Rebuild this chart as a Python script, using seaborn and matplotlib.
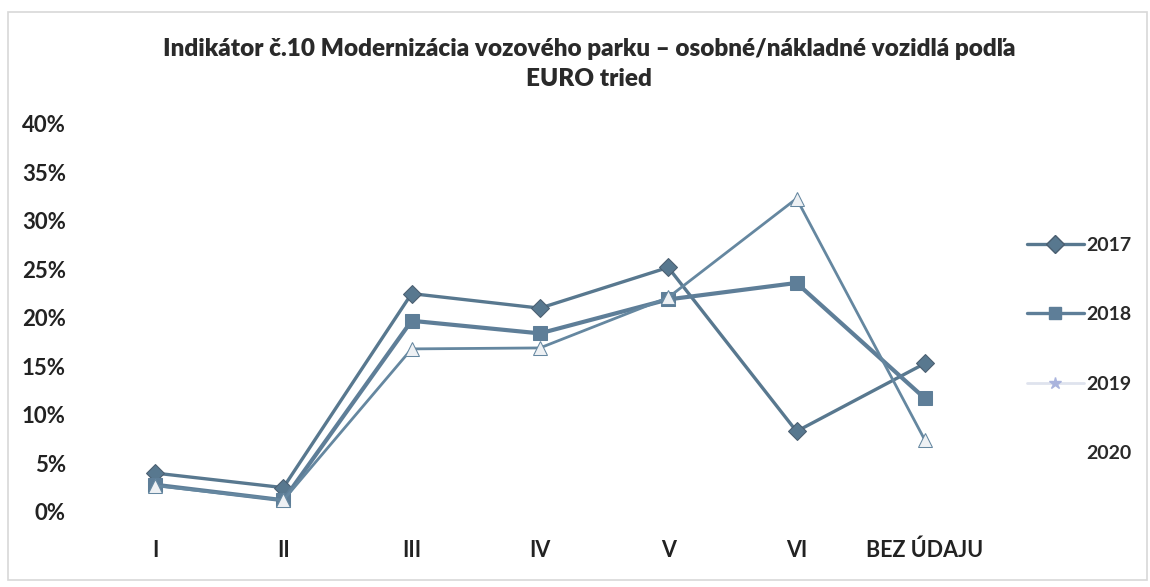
import numpy as np
import pandas as pd
import matplotlib
matplotlib.use("Agg")
import matplotlib.pyplot as plt
from matplotlib.lines import Line2D
from matplotlib.patches import Rectangle
import seaborn as sns

categories = ["I", "II", "III", "IV", "V", "VI", "BEZ ÚDAJU"]
years = ["2017", "2018", "2019", "2020"]
vals_2017 = [4.0, 2.5, 22.5, 21.0, 25.2, 8.3, 15.3]
vals_2018 = [2.8, 1.2, 19.7, 18.4, 21.9, 23.6, 11.7]
vals_2019 = [2.7, 1.2, 16.8, 16.9, 22.1, 32.3, 7.4]
vals_2020 = [np.nan] * 7  # no visible data in the chart

sns.set_theme(style="white")
plt.rcParams["font.family"] = ["Lato", "DejaVu Sans"]

fig = plt.figure(figsize=(11.5, 5.87), dpi=100)
ax = fig.add_axes([0.079, 0.128, 0.781, 0.661])

# light frame round the chart like the original sheet
fig.patches.append(Rectangle((0.007, 0.012), 0.99, 0.968, transform=fig.transFigure,
                             fill=False, edgecolor="#d8d8d8", linewidth=1.2))

col17 = "#58788f"
col18 = "#5e7e98"
col19 = "#6587a0"

sns.lineplot(x=categories, y=vals_2017, ax=ax, color=col17, lw=2.4, marker="D",
             markersize=9, markeredgecolor="#4a5e70", markerfacecolor=col17, sort=False)
sns.lineplot(x=categories, y=vals_2018, ax=ax, color=col18, lw=3.0, marker="s",
             markersize=9.5, markeredgecolor=col18, markerfacecolor=col18, sort=False)
sns.lineplot(x=categories, y=vals_2019, ax=ax, color=col19, lw=2.0, marker="^",
             markersize=10, markeredgecolor=col19, markerfacecolor="#eef1f4", sort=False)

ax.set_xlim(-0.5, 6.5)
ax.set_ylim(0, 40)
ax.set_yticks(range(0, 41, 5))
ax.set_yticklabels([f"{v}%" for v in range(0, 41, 5)])
ax.tick_params(axis="y", labelsize=16, pad=12, colors="#222222")
ax.tick_params(axis="x", labelsize=15.5, pad=14, colors="#222222")
for lab in ax.get_yticklabels() + ax.get_xticklabels():
    lab.set_fontweight("bold")
for s in ax.spines.values():
    s.set_visible(False)
ax.grid(False)

fig.suptitle("Indikátor č.10 Modernizácia vozového parku – osobné/nákladné vozidlá podľa\nEURO tried",
             x=0.512, y=0.935, fontsize=17.5, fontweight="heavy", color="#2a2a2a", linespacing=1.45)

handles = [
    Line2D([], [], color=col17, lw=2.4, marker="D", markersize=9, markeredgecolor="#4a5e70"),
    Line2D([], [], color=col18, lw=2.4, marker="s", markersize=9),
    Line2D([], [], color="#dfe3ee", lw=2.0, marker="*", markersize=9,
           markerfacecolor="#aab4dd", markeredgecolor="#aab4dd"),
    Line2D([], [], color="none"),
]
leg = fig.legend(handles, years, loc="center left", bbox_to_anchor=(0.878, 0.405),
                 frameon=False, fontsize=14, labelspacing=2.7, handlelength=2.9,
                 handletextpad=0.15)
for t in leg.get_texts():
    t.set_fontweight("bold")
    t.set_color("#2a2a2a")

fig.savefig("out.png", dpi=100)
